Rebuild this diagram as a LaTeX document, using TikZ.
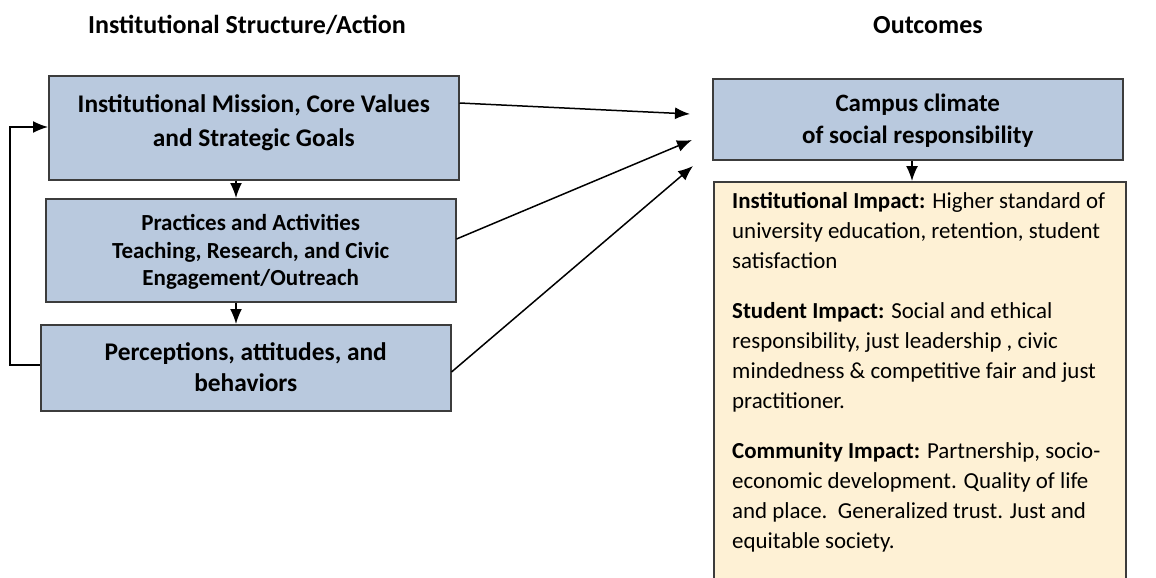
\documentclass[tikz,border=0pt]{standalone}
\usepackage{fontspec}
\setmainfont{Carlito}
\usetikzlibrary{arrows.meta,calc}
\definecolor{boxblue}{RGB}{185,201,222}
\definecolor{boxcream}{RGB}{254,241,213}
\definecolor{edgegray}{RGB}{60,60,60}
\tikzset{
  bluebox/.style={draw=edgegray,line width=1.5pt,fill=boxblue,anchor=north west,
    align=center,inner sep=0pt},
  creambox/.style={draw=edgegray,line width=1.5pt,fill=boxcream,anchor=north west,
    inner sep=0pt},
  boxlabel/.style={align=center,inner sep=0pt},
  heading/.style={font=\bfseries\fontsize{26}{30}\selectfont,inner sep=0pt},
  link/.style={line width=1.5pt,draw=black,-{Latex[length=15pt,width=12pt]}}
}
\begin{document}
\begin{tikzpicture}[x=1pt,y=-1pt]
\useasboundingbox (0,0) rectangle (1156,578);
\clip (0,0) rectangle (1156,578);
\fill[white] (0,0) rectangle (1156,578);

% column headings
\node[heading] (hleft) at (247,25) {Institutional Structure/Action};
\node[heading] (hright) at (928,25) {Outcomes};

% institutional structure / action
\node[bluebox,minimum width=410pt,minimum height=104pt] (mission) at (48,75) {};
\node[boxlabel,font=\bfseries\fontsize{25.4}{34}\selectfont] (missiontext) at ($(mission.center)+(0,-5)$)
  {Institutional Mission, Core Values\\and Strategic Goals};
\node[bluebox,minimum width=410pt,minimum height=103pt] (practice) at (45,198) {};
\node[boxlabel,font=\bfseries\fontsize{23}{27.5}\selectfont] (practicetext) at ($(practice.center)+(0,2)$)
  {Practices and Activities\\Teaching, Research, and Civic\\Engagement/Outreach};
\node[bluebox,minimum width=410pt,minimum height=86pt] (percept) at (40,324) {};
\node[boxlabel,font=\bfseries\fontsize{25.4}{31}\selectfont] (percepttext) at ($(percept.center)+(0,-1)$)
  {Perceptions, attitudes, and\\behaviors};

% outcomes
\node[bluebox,minimum width=410pt,minimum height=81pt] (climate) at (712,78) {};
\node[boxlabel,font=\bfseries\fontsize{25}{32}\selectfont] (climatetext) at ($(climate.center)+(0,1)$)
  {Campus climate\\of social responsibility};
\node[creambox,minimum width=412pt,minimum height=420pt] (impact) at (713,181) {};
\node[anchor=north west,inner sep=0pt,align=left,font=\fontsize{22.9}{30}\selectfont] (impacttext) at (732,192)
  {\textbf{Institutional Impact:} Higher standard of\\
   university education, retention, student\\
   satisfaction\\[20pt]
   \textbf{Student Impact:} Social and ethical\\
   responsibility, just leadership , civic\\
   mindedness \& competitive fair and just\\
   practitioner.\\[20pt]
   \textbf{Community Impact:} Partnership, socio-\\
   economic development. Quality of life\\
   and place.\ \ Generalized trust. Just and\\
   equitable society.};

% vertical connectors (slightly left of the box centres)
\coordinate (downx) at (236,0);
\draw[link] (mission.south -| downx) -- (practice.north -| downx);
\draw[link] (practice.south -| downx) -- (percept.north -| downx);
\coordinate (outx) at (912,0);
\draw[link] (climate.south -| outx) -- (impact.north -| outx);

% links into the campus climate
\coordinate (inA) at (690,114);
\coordinate (inB) at (692,140);
\coordinate (inC) at (693,166);
\draw[link] (mission.east |- 0,103) -- (inA);
\draw[link] (practice.east |- 0,239) -- (inB);
\draw[link] (percept.east |- 0,372) -- (inC);

% feedback loop
\coordinate (loopbottom) at (10,365);
\coordinate (looptop) at (10,127);
\draw[link] (percept.west |- loopbottom) -- (loopbottom) -- (looptop) -- (mission.west |- looptop);
\end{tikzpicture}
\end{document}
